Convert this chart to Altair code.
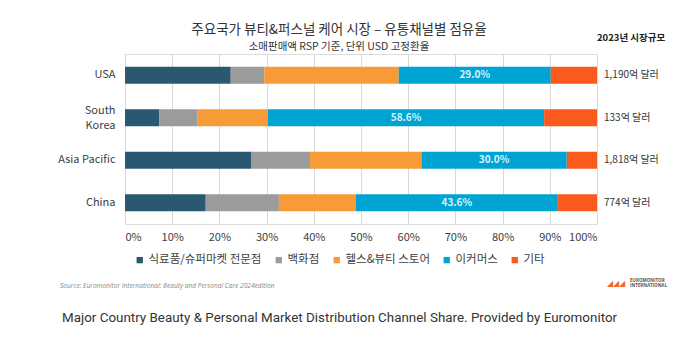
import altair as alt
import pandas as pd

countries = ["USA", "South Korea", "Asia Pacific", "China"]
channels = ["식료품/슈퍼마켓 전문점", "백화점", "헬스&뷰티 스토어", "이커머스", "기타"]
colors = ["#2B5871", "#999B9C", "#F89A36", "#00A4D3", "#FA5A1C"]

food = [22.4, 7.3, 26.7, 17.1]
dept = [7.1, 8.0, 12.5, 15.5]
health = [28.5, 15.0, 23.6, 16.3]
ecom = [32.2, 58.5, 30.8, 42.8]
other = [9.8, 11.2, 6.4, 8.3]

ecom_labels = ["29.0%", "58.6%", "30.0%", "43.6%"]
market_size = ["1,190억 달러", "133억 달러", "1,818억 달러", "774억 달러"]

title_text = "주요국가 뷰티&퍼스널 케어 시장 – 유통채널별 점유율"
subtitle_text = "소매판매액 RSP 기준, 단위 USD 고정환율"
size_header = "2023년 시장규모"
source_text = "Source: Euromonitor International: Beauty and Personal Care 2024edition"
caption_text = "Major Country Beauty & Personal Market Distribution Channel Share. Provided by Euromonitor"

KR = "Noto Sans CJK KR"

series = [food, dept, health, ecom, other]
rows = []
for i, c in enumerate(countries):
    start = 0.0
    for j, ch in enumerate(channels):
        v = series[j][i] / 100.0
        rows.append({"country": c, "channel": ch, "order": j, "start": start,
                     "end": start + v, "mid": start + v / 2,
                     "label": ecom_labels[i] if j == 3 else ""})
        start += v
df = pd.DataFrame(rows)

yenc = alt.Y("country:N", sort=countries, title=None,
             scale=alt.Scale(paddingInner=0.6, paddingOuter=0.3),
             axis=alt.Axis(domain=False, ticks=False, labelPadding=10,
                           labelFontSize=11, labelColor="#404040", labelFont=KR,
                           labelLineHeight=15,
                           labelOffset={"condition": {"test": "datum.value == 'South Korea'",
                                                      "value": -7}, "value": 0},
                           labelExpr="datum.value == 'South Korea' ? ['South', 'Korea'] : datum.value"))

bars = alt.Chart(df).mark_bar().encode(
    x=alt.X("start:Q", scale=alt.Scale(domain=[0, 1], nice=False), title=None,
            axis=alt.Axis(format="%", values=[i / 10 for i in range(11)], grid=True,
                          gridColor="#D9D9D9", domain=False, ticks=False,
                          labelFontSize=11, labelColor="#404040", labelFont=KR,
                          labelPadding=7)),
    x2="end:Q",
    y=yenc,
    color=alt.Color("channel:N", sort=channels,
                    scale=alt.Scale(domain=channels, range=colors),
                    legend=alt.Legend(title=None, orient="none", direction="horizontal",
                                      legendX=9, legendY=200, symbolType="square",
                                      symbolSize=40, symbolStrokeWidth=0,
                                      labelFontSize=11.5, labelColor="#404040",
                                      labelFont=KR, columnPadding=11, labelOffset=3)),
    order=alt.Order("order:Q"),
)

labels = alt.Chart(df[df["label"] != ""]).mark_text(
    font=KR, fontSize=10, fontWeight="bold", color="#DDF2F9"
).encode(x="mid:Q", y=alt.Y("country:N", sort=countries), text="label:N")

sizes_df = pd.DataFrame({"country": countries, "size": market_size})
sizes = alt.Chart(sizes_df).mark_text(
    font=KR, fontSize=10, color="#333333", align="left"
).encode(x=alt.value(479), y=alt.Y("country:N", sort=countries), text="size:N")

def txt(s, x, y, **kw):
    return alt.Chart(pd.DataFrame({"t": [s]})).mark_text(**kw).encode(
        text="t:N", x=alt.value(x), y=alt.value(y))

title = txt(title_text, 214, -24, font=KR, fontSize=13.5, color="#333333")
subtitle = txt(subtitle_text, 214, -7, font=KR, fontSize=10.5, color="#333333")
header = txt(size_header, 472, -16, font=KR, fontSize=9.5, fontWeight="bold",
             color="#222222", align="left")
source = txt(source_text, -65, 232, font="Open Sans", fontSize=6.6, fontStyle="italic",
             color="#888888", align="left")
logo1 = txt("EUROMONITOR", 505, 227, font="Open Sans", fontSize=4.5, fontWeight="bold",
            color="#555555", align="left")
logo2 = txt("INTERNATIONAL", 505, 232, font="Open Sans", fontSize=4.5, fontWeight="bold",
            color="#555555", align="left")
logo3 = txt("◢◢◢", 482, 230, fontSize=8, color="#F26A1B", align="left")
caption = txt(caption_text, -63, 264, font="Roboto", fontSize=13.4, color="#333333",
              align="left")

chart = alt.layer(bars, labels, sizes, title, subtitle, header, source,
                  logo1, logo2, logo3, caption).properties(
    width=472, height=170,
    autosize=alt.AutoSizeParams(type="none"),
    padding={"left": 125, "top": 54, "right": 83, "bottom": 119},
).configure_view(stroke=None).configure(background="white")

chart.save("out.html", embed_options={"renderer": "svg", "actions": False})
